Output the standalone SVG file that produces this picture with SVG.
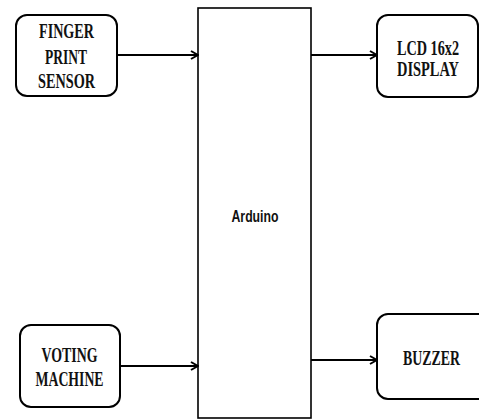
<svg xmlns="http://www.w3.org/2000/svg" width="479" height="420" viewBox="0 0 479 420">
<style>
.box{fill:#fff;stroke:#000;stroke-width:2}
.core{fill:#fff;stroke:#000;stroke-width:1.6}
.lbl{font-family:"Liberation Serif","Times New Roman",serif;font-weight:bold;font-size:20px;fill:#111;text-anchor:middle}
.ard{font-family:"Liberation Sans",Arial,sans-serif;font-weight:bold;font-size:17px;fill:#111;text-anchor:middle}
.conn{stroke:#000;stroke-width:2.2;fill:none}
</style>
<defs>
<marker id="arr" viewBox="0 0 10 10" refX="9" refY="5" markerWidth="10" markerHeight="10" markerUnits="userSpaceOnUse" orient="auto">
<path d="M2,1 L9,5 L2,9" fill="none" stroke="#000" stroke-width="2"/>
</marker>
</defs>
<g id="arduino">
<rect class="core" x="198" y="8" width="113" height="410"/>
<text class="ard" x="255" y="222" textLength="47" lengthAdjust="spacingAndGlyphs">Arduino</text>
</g>
<g id="fingerprint">
<rect class="box" x="16" y="15" width="101" height="81" rx="11"/>
<text class="lbl" x="66.5" y="38" textLength="55" lengthAdjust="spacingAndGlyphs">FINGER</text>
<text class="lbl" x="66" y="64" textLength="42" lengthAdjust="spacingAndGlyphs">PRINT</text>
<text class="lbl" x="66.5" y="88" textLength="57" lengthAdjust="spacingAndGlyphs">SENSOR</text>
</g>
<g id="lcd">
<rect class="box" x="377" y="15" width="101" height="82" rx="11"/>
<text class="lbl" x="428" y="55" textLength="62" lengthAdjust="spacingAndGlyphs">LCD 16x2</text>
<text class="lbl" x="428" y="76" textLength="62" lengthAdjust="spacingAndGlyphs">DISPLAY</text>
</g>
<g id="voting">
<rect class="box" x="20" y="325" width="100" height="82" rx="11"/>
<text class="lbl" x="69.5" y="362" textLength="56" lengthAdjust="spacingAndGlyphs">VOTING</text>
<text class="lbl" x="69.5" y="386" textLength="68" lengthAdjust="spacingAndGlyphs">MACHINE</text>
</g>
<g id="buzzer">
<rect class="box" x="377" y="314" width="112" height="85" rx="11"/>
<text class="lbl" x="431.5" y="365" textLength="57" lengthAdjust="spacingAndGlyphs">BUZZER</text>
</g>
<g id="connectors">
<line class="conn" x1="117" y1="55" x2="198" y2="55" marker-end="url(#arr)"/>
<line class="conn" x1="311" y1="55" x2="377" y2="55" marker-end="url(#arr)"/>
<line class="conn" x1="120" y1="366" x2="198" y2="366" marker-end="url(#arr)"/>
<line class="conn" x1="311" y1="360" x2="377" y2="360" marker-end="url(#arr)"/>
</g>
</svg>
